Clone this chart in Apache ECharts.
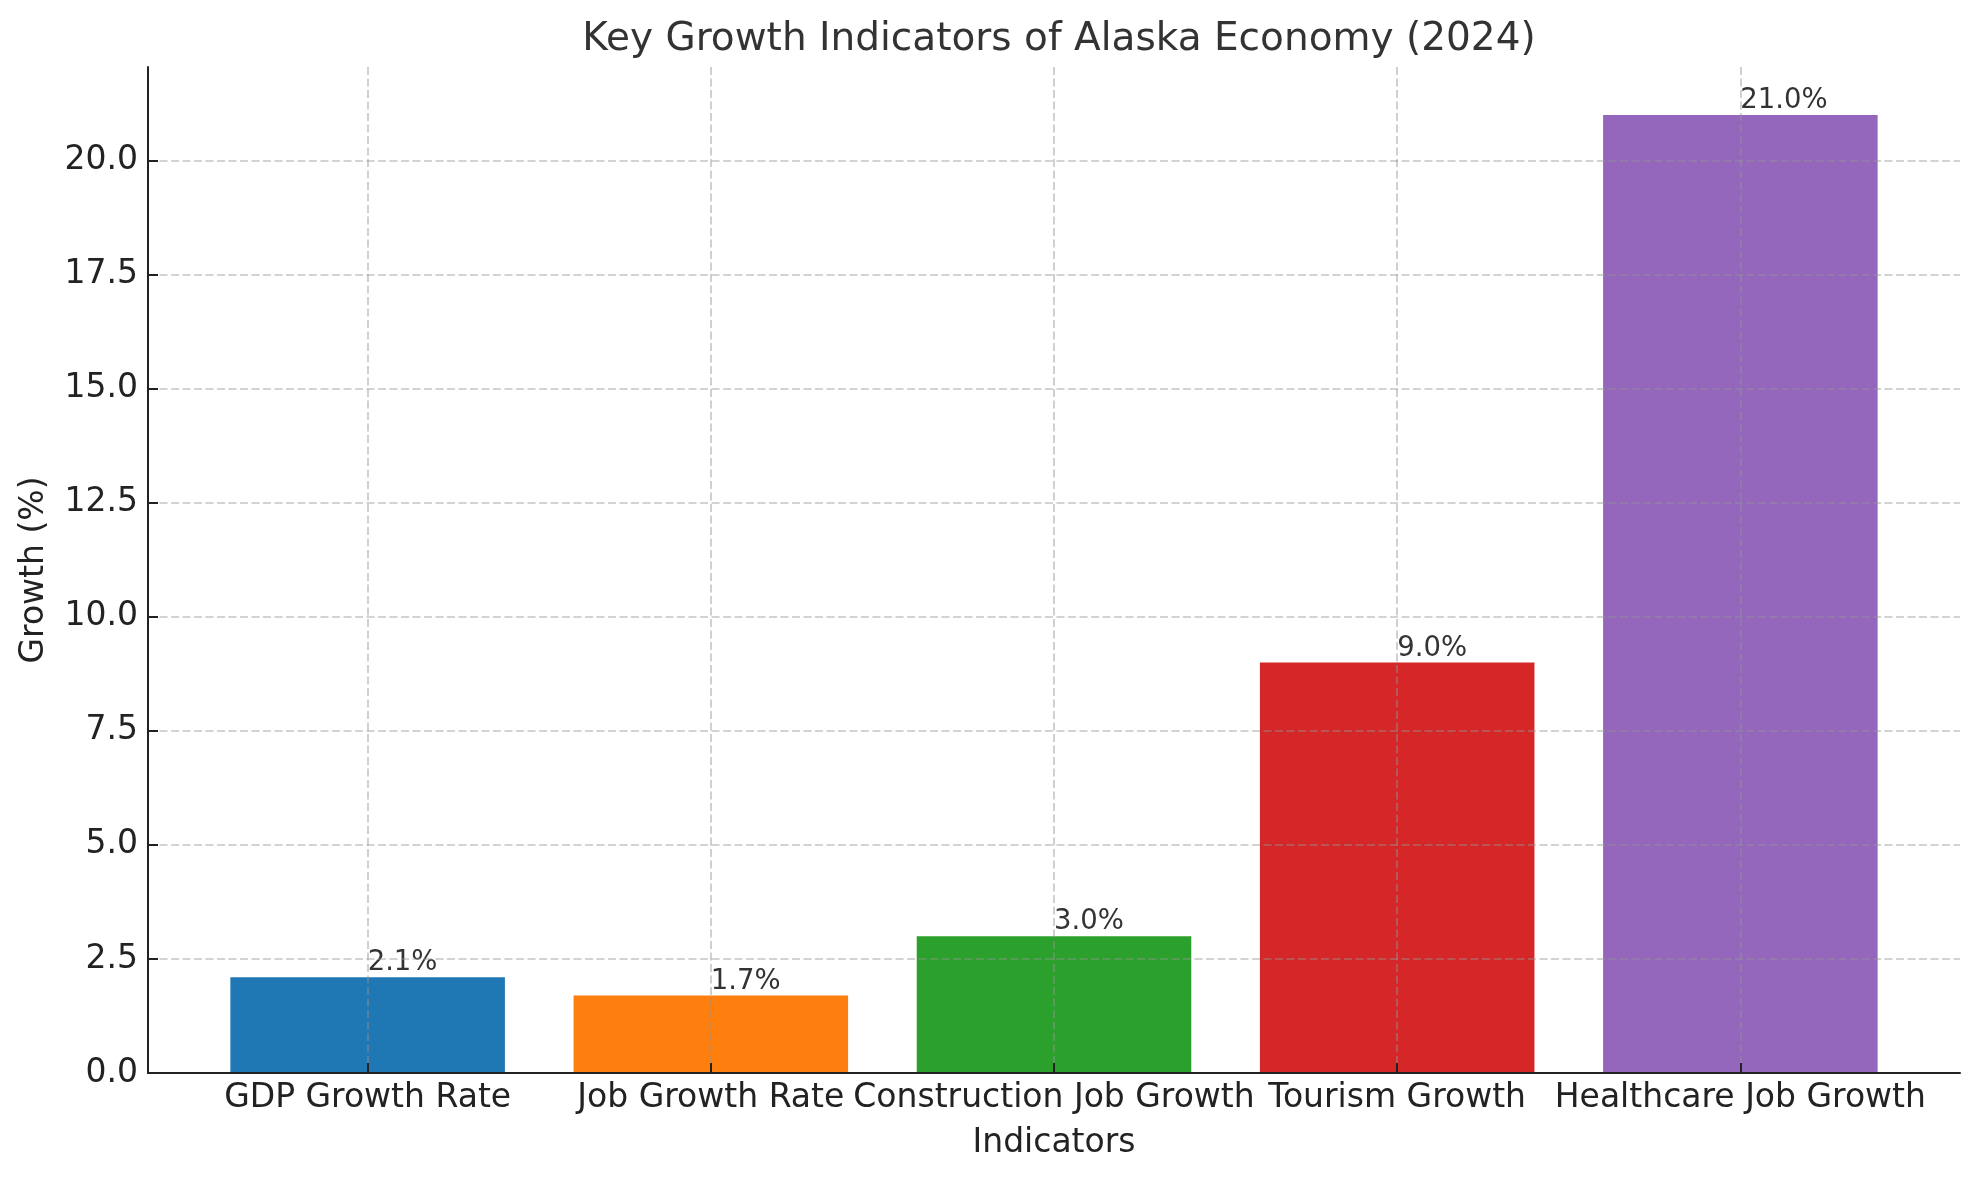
<!DOCTYPE html>
<html>
<head>
<meta charset="utf-8">
<script src="https://cdn.jsdelivr.net/npm/echarts@6/dist/echarts.min.js"></script>
<style>
html,body{margin:0;padding:0;background:#fff;}
#chart{width:1979px;height:1180px;}
</style>
</head>
<body>
<div id="chart"></div>
<script>
const categories = ['GDP Growth Rate', 'Job Growth Rate', 'Construction Job Growth', 'Tourism Growth', 'Healthcare Job Growth'];
const values = [2.1, 1.7, 3.0, 9.0, 21.0];
const colors = ['#1f77b4', '#ff7f0e', '#2ca02c', '#d62728', '#9467bd'];
const yTicks = [0, 2.5, 5, 7.5, 10, 12.5, 15, 17.5, 20];
const xTicks = [0, 1, 2, 3, 4];

const FONT = 'DejaVu Sans';
const gridLeft = 148, gridRight = 19, gridTop = 67, gridBottom = 107;
const W = 1979, H = 1180;
const xMin = -0.64, xMax = 4.64;
const yMin = 0, yMax = 22.05;
const gridW = W - gridLeft - gridRight;
const barW = gridW * 0.8 / (xMax - xMin);

const gridLine = { show: true, lineStyle: { color: 'rgba(150,150,150,0.55)', width: 1.6, type: [8, 3.5] } };

const chart = echarts.init(document.getElementById('chart'), null, { renderer: 'canvas' });
chart.setOption({
  animation: false,
  backgroundColor: '#ffffff',
  title: {
    text: 'Key Growth Indicators of Alaska Economy (2024)',
    left: gridLeft + gridW / 2,
    textAlign: 'center',
    top: 15,
    textStyle: { fontFamily: FONT, fontSize: 39, fontWeight: 'normal', color: '#333333' }
  },
  grid: { left: gridLeft, right: gridRight, top: gridTop, bottom: gridBottom, containLabel: false },
  xAxis: {
    type: 'value',
    min: xMin, max: xMax,
    z: 5,
    name: 'Indicators',
    nameLocation: 'middle',
    nameGap: 54,
    nameTextStyle: { fontFamily: FONT, fontSize: 33, color: '#222222' },
    axisLine: { show: true, onZero: false, lineStyle: { color: '#222222', width: 2 } },
    axisTick: { show: true, inside: true, length: 10, customValues: xTicks, lineStyle: { color: '#222222', width: 2 } },
    axisLabel: {
      customValues: xTicks,
      margin: 9,
      fontFamily: FONT, fontSize: 33, color: '#222222',
      formatter: v => categories[Math.round(v)] || ''
    },
    splitLine: gridLine
  },
  yAxis: {
    type: 'value',
    min: yMin, max: yMax,
    z: 5,
    name: 'Growth (%)',
    nameLocation: 'middle',
    nameGap: 97,
    nameTextStyle: { fontFamily: FONT, fontSize: 33, color: '#222222' },
    axisLine: { show: true, onZero: false, lineStyle: { color: '#222222', width: 2 } },
    axisTick: { show: true, inside: true, length: 10, customValues: yTicks, lineStyle: { color: '#222222', width: 2 } },
    axisLabel: {
      customValues: yTicks,
      margin: 10,
      fontFamily: FONT, fontSize: 33, color: '#222222',
      formatter: v => v.toFixed(1)
    },
    splitLine: gridLine
  },
  series: [{
    type: 'bar',
    barWidth: barW,
    data: values.map((v, i) => ({ value: [i, v], itemStyle: { color: colors[i] } })),
    label: {
      show: true,
      position: ['50%', 0],
      align: 'left',
      verticalAlign: 'bottom',
      distance: 0,
      fontFamily: FONT, fontSize: 27.5, color: '#333333',
      formatter: p => p.value[1].toFixed(1) + '%'
    }
  }]
});
</script>
</body>
</html>
